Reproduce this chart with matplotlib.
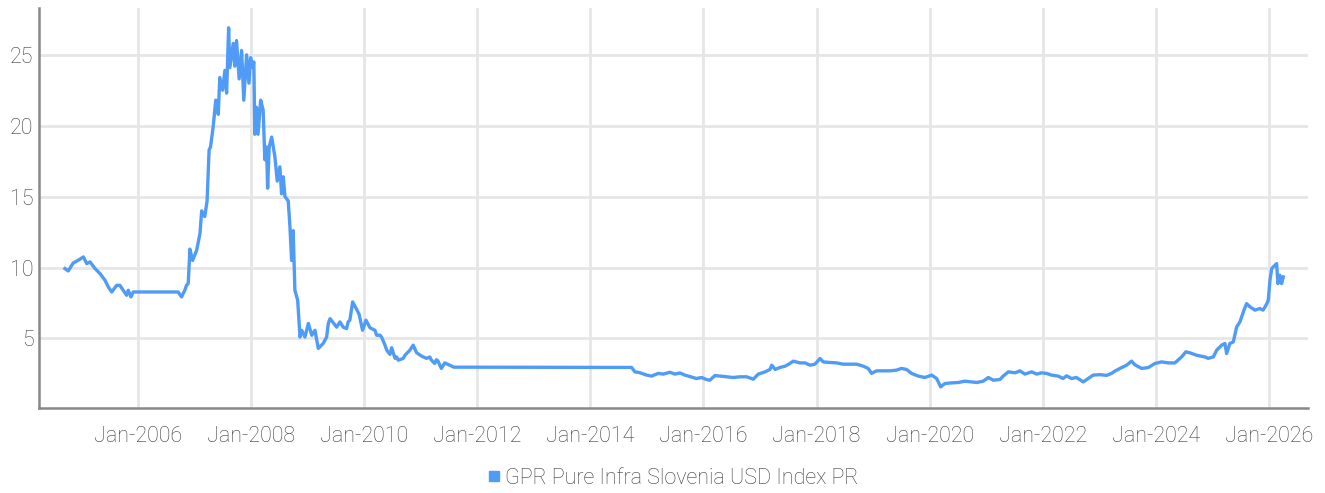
import matplotlib
matplotlib.use("Agg")
import matplotlib.pyplot as plt
import matplotlib.dates as mdates
from matplotlib.lines import Line2D
import pandas as pd

# values
dates = [
    "2004-09-16", "2004-10-07", "2004-11-08", "2004-12-10", "2005-01-13", "2005-02-04",
    "2005-02-25", "2005-03-29", "2005-04-30", "2005-06-02", "2005-06-23", "2005-07-15",
    "2005-08-16", "2005-09-06", "2005-09-27", "2005-10-19", "2005-10-30", "2005-11-16",
    "2005-12-01", "2006-09-17", "2006-10-09", "2006-10-30", "2006-11-10", "2006-11-21",
    "2006-12-02", "2006-12-19", "2007-01-14", "2007-02-05", "2007-02-16", "2007-03-08",
    "2007-03-23", "2007-04-05", "2007-04-14", "2007-05-01", "2007-05-18", "2007-06-03",
    "2007-06-13", "2007-07-01", "2007-07-16", "2007-07-27", "2007-08-09", "2007-08-17",
    "2007-09-08", "2007-09-18", "2007-09-29", "2007-10-16", "2007-11-01", "2007-11-15",
    "2007-12-03", "2007-12-18", "2007-12-29", "2008-01-08", "2008-01-19", "2008-01-25",
    "2008-02-05", "2008-02-15", "2008-03-03", "2008-03-19", "2008-03-30", "2008-04-10",
    "2008-04-17", "2008-04-27", "2008-05-13", "2008-06-03", "2008-06-18", "2008-07-05",
    "2008-07-16", "2008-07-27", "2008-08-07", "2008-08-28", "2008-09-08", "2008-09-19",
    "2008-09-29", "2008-10-10", "2008-10-28", "2008-11-12", "2008-11-23", "2008-12-14",
    "2009-01-05", "2009-01-27", "2009-02-17", "2009-03-10", "2009-04-11", "2009-04-22",
    "2009-05-03", "2009-05-14", "2009-05-25", "2009-07-07", "2009-07-28", "2009-08-18",
    "2009-09-09", "2009-09-19", "2009-09-30", "2009-10-18", "2009-11-13", "2009-11-29",
    "2009-12-21", "2010-01-12", "2010-02-07", "2010-03-11", "2010-03-22", "2010-04-13",
    "2010-04-23", "2010-05-15", "2010-05-26", "2010-06-16", "2010-06-27", "2010-07-19",
    "2010-07-29", "2010-08-09", "2010-09-10", "2010-09-21", "2010-10-12", "2010-10-23",
    "2010-11-13", "2010-12-05", "2011-01-06", "2011-02-07", "2011-02-28", "2011-03-11",
    "2011-04-01", "2011-04-12", "2011-04-22", "2011-05-14", "2011-06-05", "2011-07-07",
    "2011-08-02", "2014-09-24", "2014-10-15", "2014-11-16", "2014-12-30", "2015-01-31",
    "2015-03-15", "2015-04-16", "2015-05-29", "2015-07-01", "2015-08-02", "2015-09-03",
    "2015-10-16", "2015-11-17", "2015-12-19", "2016-01-21", "2016-02-11", "2016-03-15",
    "2016-04-16", "2016-05-30", "2016-07-11", "2016-08-24", "2016-10-06", "2016-11-18",
    "2016-12-20", "2017-02-02", "2017-03-06", "2017-03-17", "2017-04-08", "2017-05-10",
    "2017-06-11", "2017-07-02", "2017-08-03", "2017-09-15", "2017-10-18", "2017-11-19",
    "2017-12-21", "2018-01-23", "2018-02-13", "2018-03-28", "2018-05-10", "2018-06-21",
    "2018-08-04", "2018-09-16", "2018-10-29", "2018-11-30", "2018-12-22", "2019-01-23",
    "2019-03-07", "2019-04-19", "2019-06-01", "2019-07-03", "2019-08-04", "2019-09-06",
    "2019-10-19", "2019-12-01", "2020-01-14", "2020-02-15", "2020-03-12", "2020-04-09",
    "2020-05-22", "2020-07-04", "2020-08-16", "2020-09-28", "2020-10-31", "2020-12-12",
    "2021-01-14", "2021-02-15", "2021-03-30", "2021-04-20", "2021-05-23", "2021-07-05",
    "2021-08-06", "2021-09-07", "2021-10-21", "2021-11-22", "2021-12-24", "2022-01-25",
    "2022-02-26", "2022-04-10", "2022-05-12", "2022-06-03", "2022-07-05", "2022-08-06",
    "2022-09-19", "2022-10-21", "2022-11-22", "2023-01-05", "2023-02-17", "2023-03-21",
    "2023-04-11", "2023-05-14", "2023-06-26", "2023-07-28", "2023-08-18", "2023-10-01",
    "2023-11-13", "2023-12-26", "2024-02-07", "2024-03-20", "2024-05-03", "2024-06-15",
    "2024-07-13", "2024-08-08", "2024-09-20", "2024-11-13", "2024-12-04", "2025-01-06",
    "2025-01-28", "2025-03-01", "2025-03-22", "2025-04-02", "2025-04-23", "2025-05-15",
    "2025-06-06", "2025-06-27", "2025-07-23", "2025-08-09", "2025-08-31", "2025-10-02",
    "2025-11-03", "2025-11-24", "2025-12-16", "2025-12-27", "2026-01-07", "2026-01-18",
    "2026-02-08", "2026-02-19", "2026-02-27", "2026-03-12", "2026-03-23", "2026-04-03",
]

values = [
    9.93, 9.76, 10.32, 10.51, 10.75, 10.28,
    10.40, 9.93, 9.58, 9.10, 8.63, 8.28,
    8.75, 8.75, 8.40, 8.05, 8.40, 7.93,
    8.28, 8.28, 7.93, 8.40, 8.75, 8.87,
    11.30, 10.50, 11.20, 12.40, 14.00, 13.60,
    14.70, 18.30, 18.50, 19.90, 21.80, 20.80,
    23.40, 22.50, 23.90, 22.30, 26.90, 24.10,
    25.80, 24.20, 26.00, 23.30, 25.30, 21.80,
    25.00, 23.00, 24.80, 24.10, 24.50, 19.40,
    21.30, 19.40, 21.80, 21.10, 17.60, 18.50,
    15.60, 18.50, 19.20, 17.80, 16.10, 17.10,
    15.20, 16.40, 15.00, 14.70, 12.90, 10.50,
    12.60, 8.40, 7.70, 5.10, 5.58, 5.10,
    6.06, 5.23, 5.58, 4.30, 4.65, 4.88,
    5.10, 6.06, 6.40, 5.80, 6.17, 5.80,
    5.70, 6.17, 6.29, 7.58, 7.05, 6.70,
    5.58, 6.29, 5.76, 5.58, 5.23, 5.23,
    5.10, 4.53, 4.18, 3.88, 4.35, 3.60,
    3.70, 3.47, 3.60, 3.82, 4.06, 4.18,
    4.53, 4.00, 3.76, 3.60, 3.70, 3.47,
    3.24, 3.50, 3.42, 2.89, 3.28, 3.12,
    2.98, 2.96, 2.65, 2.59, 2.42, 2.35,
    2.54, 2.49, 2.62, 2.49, 2.57, 2.42,
    2.28, 2.18, 2.25, 2.11, 2.06, 2.39,
    2.35, 2.30, 2.25, 2.30, 2.30, 2.13,
    2.49, 2.65, 2.82, 3.12, 2.82, 2.96,
    3.05, 3.17, 3.40, 3.28, 3.28, 3.12,
    3.19, 3.59, 3.35, 3.31, 3.28, 3.19,
    3.19, 3.19, 3.05, 2.89, 2.54, 2.72,
    2.72, 2.72, 2.77, 2.89, 2.82, 2.54,
    2.35, 2.25, 2.42, 2.18, 1.59, 1.83,
    1.87, 1.90, 1.99, 1.94, 1.90, 1.99,
    2.25, 2.06, 2.11, 2.35, 2.65, 2.58,
    2.72, 2.49, 2.65, 2.49, 2.58, 2.54,
    2.42, 2.35, 2.18, 2.37, 2.18, 2.25,
    1.94, 2.18, 2.42, 2.45, 2.40, 2.54,
    2.70, 2.89, 3.12, 3.40, 3.15, 2.89,
    2.95, 3.24, 3.35, 3.28, 3.28, 3.70,
    4.06, 3.99, 3.82, 3.70, 3.60, 3.70,
    4.18, 4.53, 4.65, 3.94, 4.65, 4.76,
    5.82, 6.17, 7.00, 7.46, 7.23, 7.00,
    7.11, 7.00, 7.42, 7.70, 9.11, 9.93,
    10.16, 10.28, 8.87, 9.46, 8.87, 9.34,
]

series_name = "GPR Pure Infra Slovenia USD Index PR"
tick_years = list(range(2006, 2027, 2))
y_ticks = [5, 10, 15, 20, 25]

line_color = "#4f9bf6"
text_color = "#3c3c3c"

plt.rcParams['font.family'] = ['Roboto', 'DejaVu Sans']
plt.rcParams['font.weight'] = 'light'

x = pd.to_datetime(dates)

fig = plt.figure(figsize=(13.25, 4.93), dpi=100)
ax = fig.add_axes([0.0294, 0.1724, 0.9577, 0.8114])

ax.plot(x, values, color=line_color, linewidth=2.4, solid_joinstyle='round')

ax.set_xlim(pd.Timestamp("2004-04-01"), pd.Timestamp("2026-09-09"))
ax.set_ylim(0.1, 28.3)

ax.set_xticks([pd.Timestamp(f"{yr}-01-01") for yr in tick_years])
ax.xaxis.set_major_formatter(mdates.DateFormatter("Jan-%Y"))
ax.set_yticks(y_ticks)

ax.grid(True, color="#e6e6e6", linewidth=2.0)
ax.set_axisbelow(True)

for side in ["top", "right"]:
    ax.spines[side].set_visible(False)
for side in ["left", "bottom"]:
    ax.spines[side].set_color("#888888")
    ax.spines[side].set_linewidth(1.8)

ax.tick_params(axis='both', length=0, labelsize=15.5, labelcolor=text_color)
ax.tick_params(axis='x', pad=13)
ax.tick_params(axis='y', pad=4)

# legend below the plot
handle = Line2D([], [], marker='s', linestyle='none', color=line_color, markersize=7)
fig.legend([handle], [series_name], loc='center', bbox_to_anchor=(0.506, 0.03),
           frameon=False, fontsize=15.5, labelcolor=text_color,
           handletextpad=0.0, handlelength=1.0)

fig.savefig("out.png", dpi=100)
